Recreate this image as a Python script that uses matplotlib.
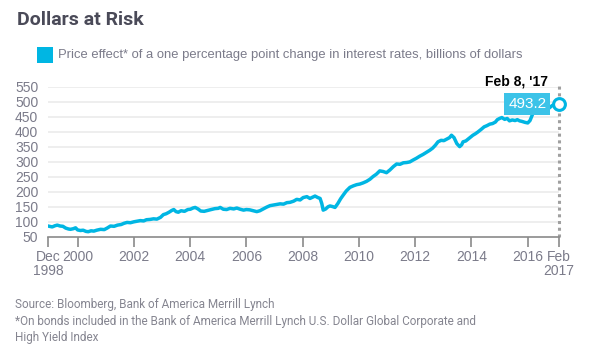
import matplotlib
matplotlib.use("Agg")
import matplotlib.pyplot as plt

# price effect, billions of dollars
years = [1998.95, 1999.00, 1999.10, 1999.20, 1999.28, 1999.38, 1999.48, 1999.58, 1999.68, 1999.75,
         1999.85, 1999.93, 2000.00, 2000.10, 2000.20, 2000.30, 2000.38, 2000.48, 2000.58, 2000.68,
         2000.82, 2000.95, 2001.05, 2001.17, 2001.30, 2001.42, 2001.55, 2001.65, 2001.76, 2001.88,
         2002.00, 2002.12, 2002.23, 2002.35, 2002.45, 2002.58, 2002.70, 2002.82, 2002.95, 2003.05,
         2003.15, 2003.25, 2003.35, 2003.42, 2003.50, 2003.58, 2003.68, 2003.80, 2003.92, 2004.01,
         2004.10, 2004.18, 2004.28, 2004.38, 2004.50, 2004.62, 2004.75, 2004.88, 2005.00, 2005.07,
         2005.18, 2005.30, 2005.42, 2005.55, 2005.66, 2005.78, 2005.90, 2006.00, 2006.12, 2006.25,
         2006.37, 2006.48, 2006.60, 2006.72, 2006.84, 2006.95, 2007.08, 2007.20, 2007.32, 2007.44,
         2007.55, 2007.68, 2007.79, 2007.91, 2008.02, 2008.15, 2008.26, 2008.35, 2008.44, 2008.54,
         2008.62, 2008.68, 2008.73, 2008.82, 2008.90, 2008.97, 2009.06, 2009.15, 2009.25, 2009.35,
         2009.44, 2009.55, 2009.68, 2009.80, 2009.92, 2010.03, 2010.15, 2010.27, 2010.39, 2010.50,
         2010.62, 2010.74, 2010.86, 2010.98, 2011.10, 2011.22, 2011.34, 2011.46, 2011.58, 2011.70,
         2011.81, 2011.92, 2012.04, 2012.16, 2012.28, 2012.40, 2012.52, 2012.62, 2012.72, 2012.81,
         2012.92, 2013.02, 2013.12, 2013.22, 2013.29, 2013.38, 2013.48, 2013.58, 2013.65, 2013.70,
         2013.80, 2013.92, 2014.05, 2014.14, 2014.23, 2014.35, 2014.45, 2014.55, 2014.65, 2014.75,
         2014.85, 2014.92, 2015.00, 2015.08, 2015.18, 2015.27, 2015.35, 2015.45, 2015.55, 2015.63,
         2015.71, 2015.80, 2015.90, 2016.00, 2016.08, 2016.18, 2016.25, 2016.32, 2016.45, 2016.60,
         2016.75, 2016.88, 2017.00, 2017.105]
values = [85, 84, 82, 86, 88, 85, 84, 78, 75, 74,
          76, 79, 72, 70, 71, 67, 66, 69, 68, 71,
          74, 73, 78, 85, 84, 88, 90, 94, 97, 96,
          99, 101, 103, 102, 106, 107, 109, 108, 114, 123,
          126, 131, 137, 140, 133, 131, 136, 134, 140, 141,
          145, 147, 142, 135, 134, 137, 140, 143, 144, 147,
          141, 140, 144, 142, 145, 141, 138, 140, 139, 136,
          133, 136, 142, 148, 153, 155, 157, 159, 158, 163,
          164, 168, 174, 172, 180, 183, 177, 181, 185, 180,
          177, 160, 138, 142, 149, 152, 150, 147, 160, 176,
          188, 202, 214, 219, 223, 225, 229, 234, 241, 250,
          258, 269, 267, 263, 272, 283, 292, 291, 296, 297,
          299, 305, 311, 318, 324, 331, 338, 345, 355, 366,
          371, 370, 375, 380, 388, 380, 360, 350, 356, 366,
          369, 378, 388, 393, 399, 408, 416, 420, 425, 427,
          432, 440, 444, 447, 441, 444, 436, 439, 437, 440,
          436, 434, 431, 429, 437, 460, 472, 483, 480, 485,
          478, 488, 490, 493.2]

tick_pos = [1998.95, 2000, 2002, 2004, 2006, 2008, 2010, 2012, 2014, 2016, 2017.1]
tick_labels = ["Dec\n1998", "2000", "2002", "2004", "2006", "2008", "2010",
               "2012", "2014", "2016", "Feb\n2017"]
y_ticks = [50, 100, 150, 200, 250, 300, 350, 400, 450, 500, 550]

cyan = "#00b6e3"
gray_txt = "#7b7b8a"

plt.rcParams["font.family"] = ["Liberation Sans", "DejaVu Sans"]

fig = plt.figure(figsize=(5.93, 3.53), dpi=100)
ax = fig.add_axes([48 / 593, 1 - 236.5 / 353, (558.7 - 48) / 593, (236.5 - 86.7) / 353])

for v in y_ticks[1:]:
    ax.axhline(v, color="#ebebeb", lw=1.2, zorder=0)

ax.plot(years, values, color=cyan, lw=2.5, solid_joinstyle="round", zorder=3)

# dotted marker line at the last date
ax.plot([years[-1], years[-1]], [50, 552], color="#a0a0a0", lw=2.2,
        linestyle=(0, (1, 1.2)), clip_on=False, zorder=2)
ax.plot(years[-1], values[-1], "o", ms=8.5, mfc="white", mec=cyan, mew=2.2,
        clip_on=False, zorder=5)

ax.annotate(f"{values[-1]:.1f}", (years[-1], values[-1]), xytext=(-9, 0),
            textcoords="offset points", ha="right", va="center", color="white",
            fontsize=11, zorder=6,
            bbox=dict(boxstyle="square,pad=0.25", fc="#3cc3e8", ec="none"))
ax.annotate("Feb 8, '17", (years[-1], values[-1]), xytext=(-8, 16),
            textcoords="offset points", ha="right", va="center", color="black",
            fontsize=10, fontweight="bold", zorder=6)

ax.set_xlim(tick_pos[0], tick_pos[-1])
ax.set_ylim(50, 550)
ax.set_xticks(tick_pos)
ax.set_xticklabels(tick_labels)
ax.set_yticks(y_ticks)
for s in ["top", "right", "left"]:
    ax.spines[s].set_visible(False)
ax.spines["bottom"].set_color("#8a8a8a")
ax.spines["bottom"].set_linewidth(1.2)
ax.tick_params(axis="x", colors="#8a8a8a", labelcolor=gray_txt, length=7, width=1.2,
               labelsize=10, pad=3)
ax.tick_params(axis="y", length=0, labelcolor=gray_txt, labelsize=10, pad=7)
for lab in ax.get_xticklabels():
    lab.set_linespacing(1.0)

fig.text(17 / 593, 1 - 20 / 353, "Dollars at Risk", fontsize=14, fontweight="bold",
         color="#4a4a58", va="center", ha="left", family=["Roboto", "DejaVu Sans"])
fig.patches.append(plt.Rectangle((37 / 593, 1 - 62.5 / 353), 15.5 / 593, 15.5 / 353,
                                 transform=fig.transFigure, fc=cyan, ec="none"))
fig.text(58 / 593, 1 - 55 / 353,
         "Price effect* of a one percentage point change in interest rates, billions of dollars",
         fontsize=9.4, color=gray_txt, va="center", ha="left")

foot = ("Source: Bloomberg, Bank of America Merrill Lynch\n"
        "*On bonds included in the Bank of America Merrill Lynch U.S. Dollar Global Corporate and\n"
        "High Yield Index")
fig.text(15 / 593, 1 - 298 / 353, foot, fontsize=8.5, color="#858590", va="top", ha="left",
         linespacing=1.35, family=["Roboto", "DejaVu Sans"])

fig.savefig("out.png", dpi=100)
